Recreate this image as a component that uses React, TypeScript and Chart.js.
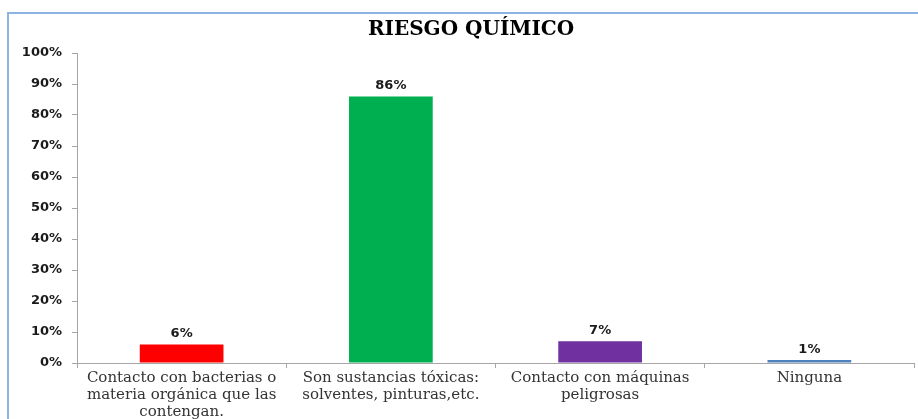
import React, { useEffect, useRef } from "react";
import { Chart, registerables } from "chart.js";

Chart.register(...registerables);

const categories: string[][] = [
  ["Contacto con bacterias o", "materia orgánica que las", "contengan."],
  ["Son sustancias tóxicas:", "solventes, pinturas,etc."],
  ["Contacto con máquinas", "peligrosas"],
  ["Ninguna"],
];
const values: number[] = [6, 86, 7, 1];
const barColors: string[] = ["#ff0000", "#00b050", "#7030a0", "#4f81bd"];
const yTicks: number[] = [0, 10, 20, 30, 40, 50, 60, 70, 80, 90, 100];
const title = "RIESGO QUÍMICO";

const framePlugin = {
  id: "frame",
  beforeDraw(chart: any) {
    const ctx = chart.ctx;
    ctx.save();
    ctx.fillStyle = "#ffffff";
    ctx.fillRect(0, 0, chart.width, chart.height);
    ctx.strokeStyle = "#8db3e2";
    ctx.lineWidth = 2;
    ctx.strokeRect(8, 13, chart.width + 20, chart.height + 20);
    ctx.font = "bold 20px 'DejaVu Serif'";
    ctx.fillStyle = "#000000";
    ctx.textAlign = "center";
    ctx.textBaseline = "middle";
    ctx.fillText(title, 471, 30);
    ctx.restore();
  },
};

const labelPlugin = {
  id: "barLabels",
  afterDatasetsDraw(chart: any) {
    const ctx = chart.ctx;
    const meta = chart.getDatasetMeta(0);
    ctx.save();
    ctx.font = "bold 13px 'DejaVu Sans'";
    ctx.fillStyle = "#1a1a1a";
    ctx.textAlign = "center";
    ctx.textBaseline = "alphabetic";
    meta.data.forEach((bar: any, i: number) => {
      ctx.fillText(values[i] + "%", bar.x, bar.y - 7);
    });
    ctx.restore();
  },
};

export default function App() {
  const ref = useRef<HTMLCanvasElement>(null);
  useEffect(() => {
    if (!ref.current) return;
    const chart = new Chart(ref.current, {
      type: "bar",
      data: {
        labels: categories,
        datasets: [
          {
            data: values,
            backgroundColor: barColors,
            borderWidth: 0,
            barPercentage: 0.4,
            categoryPercentage: 1.0,
          },
        ],
      },
      options: {
        animation: false,
        responsive: false,
        devicePixelRatio: 1,
        layout: { padding: { left: 0, right: 4, top: 53, bottom: 0 } },
        plugins: {
          legend: { display: false },
          tooltip: { enabled: false },
          title: { display: false },
        },
        scales: {
          x: {
            offset: true,
            grid: {
              display: true,
              offset: true,
              drawOnChartArea: false,
              drawTicks: true,
              tickLength: 5,
              color: "#a6a6a6",
            },
            border: { display: true, color: "#a6a6a6", width: 1 },
            ticks: {
              color: "#333333",
              font: { family: "'DejaVu Serif'", size: 15, lineHeight: "17px" },
              padding: 2,
              maxRotation: 0,
              autoSkip: false,
            },
            afterFit(scale: any) {
              scale.height = 56;
            },
          },
          y: {
            min: 0,
            max: 100,
            afterBuildTicks(scale: any) {
              scale.ticks = yTicks.map((v) => ({ value: v }));
            },
            grid: {
              display: true,
              drawOnChartArea: false,
              drawTicks: true,
              tickLength: 5,
              color: "#a6a6a6",
            },
            border: { display: true, color: "#a6a6a6", width: 1 },
            ticks: {
              color: "#1a1a1a",
              font: { family: "'DejaVu Sans'", size: 13, weight: "bold" },
              padding: 10,
              callback: (v: any) => v + "%",
            },
            afterFit(scale: any) {
              scale.width = 77;
            },
          },
        },
      },
      plugins: [framePlugin, labelPlugin],
    });
    return () => chart.destroy();
  }, []);
  return (
    <div style={{ position: "absolute", left: 0, top: 0, width: 918, height: 419 }}>
      <canvas ref={ref} width={918} height={419} style={{ display: "block" }} />
    </div>
  );
}
